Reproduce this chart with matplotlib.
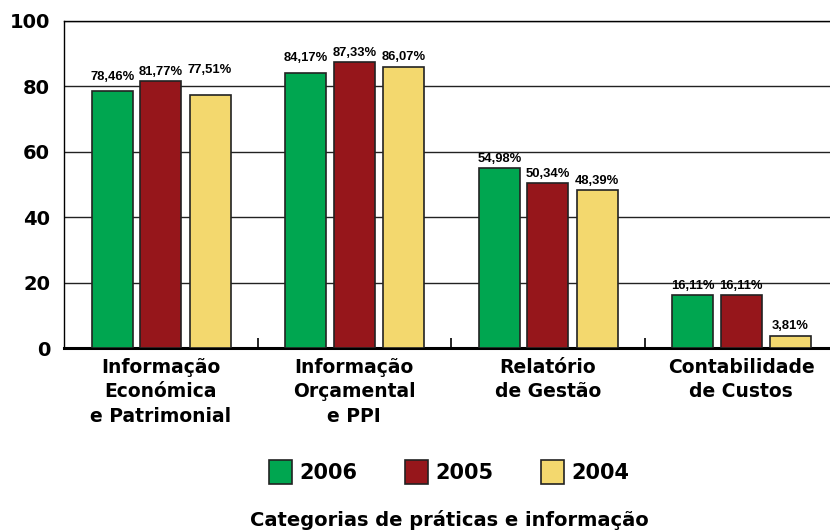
import numpy as np
import matplotlib.pyplot as plt
from matplotlib import font_manager

# data
categories = ["Informação\nEconómica\ne Patrimonial", "Informação\nOrçamental\ne PPI",
              "Relatório\nde Gestão", "Contabilidade\nde Custos"]
years = ["2006", "2005", "2004"]
v2006 = [78.46, 84.17, 54.98, 16.11]
v2005 = [81.77, 87.33, 50.34, 16.11]
v2004 = [77.51, 86.07, 48.39, 3.81]
y_ticks = [0, 20, 40, 60, 80, 100]

colors = ["#00A650", "#96161B", "#F3D86E"]

# extra lift (points) for a few value labels that sit higher in the original
lift_2006 = [4, 4, 0, 0]
lift_2005 = [0, 0, 0, 0]
lift_2004 = [11, 0, 0, 0]


# pick a narrow font if there is one, otherwise a regular one at a smaller size
def pick_label_font():
    for name, size in [("Liberation Sans Narrow", 12), ("DejaVu Sans Condensed", 10),
                       ("Liberation Sans", 9.4)]:
        try:
            font_manager.findfont(font_manager.FontProperties(family=name, weight="bold"),
                                  fallback_to_default=False)
            return name, size
        except ValueError:
            continue
    return "DejaVu Sans", 8.0


label_font, label_size = pick_label_font()

fig = plt.figure(figsize=(8.3, 5.31), dpi=100)
# axes runs slightly past the right edge of the figure like the original
ax = fig.add_axes([64 / 830, 1 - 348 / 531, 774 / 830, 327 / 531])

x = np.arange(len(categories))
offsets = [-0.25, 0.0, 0.255]
width = 0.212
series = [v2006, v2005, v2004]
lifts = [lift_2006, lift_2005, lift_2004]

for vals, lift, off, col, yr in zip(series, lifts, offsets, colors, years):
    bars = ax.bar(x + off, vals, width, color=col, edgecolor="#222222", linewidth=1.2,
                  label=yr, zorder=3)
    for b, v, l in zip(bars, vals, lift):
        ax.annotate(f"{v:.2f}%".replace(".", ","), (b.get_x() + b.get_width() / 2, v),
                    xytext=(0, 2.2 + l), textcoords="offset points",
                    ha="center", va="bottom", fontsize=label_size, fontweight="bold",
                    family=[label_font, "DejaVu Sans"], zorder=4)

ax.set_xlim(-0.5, len(categories) - 0.5)
ax.set_ylim(0, 100)
ax.set_yticks(y_ticks)
ax.set_yticklabels([str(t) for t in y_ticks], fontsize=14, fontweight="bold",
                   family="DejaVu Sans")
ax.tick_params(axis="y", length=0, pad=10)
ax.yaxis.grid(True, color="#222222", linewidth=1.0, zorder=0)

ax.set_xticks(x)
ax.set_xticklabels(categories, fontsize=13.5, fontweight="bold", family="DejaVu Sans",
                   linespacing=1.38)
ax.set_xticks(np.arange(0.5, len(categories) - 0.5, 1), minor=True)
ax.tick_params(axis="x", which="major", length=0, pad=7)
ax.tick_params(axis="x", which="minor", length=7, direction="in", width=1.2)

for s in ["top", "left"]:
    ax.spines[s].set_linewidth(1.0)
ax.spines["bottom"].set_linewidth(2.2)
ax.spines["right"].set_visible(False)

leg = fig.legend(loc="center", bbox_to_anchor=(449 / 830, 1 - 472 / 531), ncol=3,
                 frameon=False, prop={"family": "DejaVu Sans", "weight": "bold", "size": 15},
                 handlelength=1.1, handleheight=1.4, columnspacing=2.3, handletextpad=0.35)

fig.text(449 / 830, 1 - 520 / 531, "Categorias de práticas e informação", ha="center",
         va="center", fontsize=14, fontweight="bold", family="DejaVu Sans")

fig.savefig("out.png", dpi=100)
